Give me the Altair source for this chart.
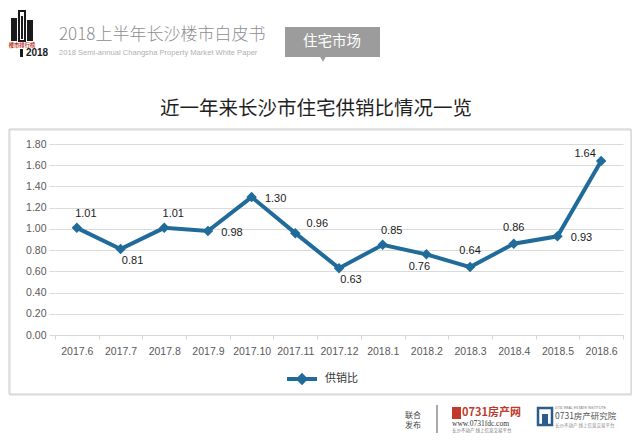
import altair as alt
import pandas as pd

# ---------------- data ----------------
months = ["2017.6", "2017.7", "2017.8", "2017.9", "2017.10", "2017.11", "2017.12",
          "2018.1", "2018.2", "2018.3", "2018.4", "2018.5", "2018.6"]
ratios = [1.01, 0.81, 1.01, 0.98, 1.30, 0.96, 0.63, 0.85, 0.76, 0.64, 0.86, 0.93, 1.64]
label_place = ["above_right", "below_right", "above_right", "right", "right", "upper_right",
               "below_right", "above_right", "below_left", "above", "above", "right", "upper_left"]
series_name = "供销比"
y_ticks = [0.0, 0.2, 0.4, 0.6, 0.8, 1.0, 1.2, 1.4, 1.6, 1.8]

title_text = "近一年来长沙市住宅供销比情况一览"
header_cn = "2018上半年长沙楼市白皮书"
header_en = "2018 Semi-annual Changsha Property Market White Paper"
section_text = "住宅市场"
logo_red = "楼市排行榜"
logo_year = "2018"
footer_a = "联合"
footer_b = "发布"
footer_site = "0731房产网"
footer_url = "www.0731fdc.com"
footer_small = "长沙不动产  线上信息交易平台"
footer_inst = "0731房产研究院"
footer_inst_en = "0731 REAL ESTATE INSTITUTE"

df = pd.DataFrame({"month": months, "ratio": ratios, "place": label_place,
                   "series": [series_name] * len(months)})
one = pd.DataFrame({"k": [0]})

# ---------------- styles ----------------
BLUE = "#206b9a"
W, H = 568, 191
NUM_FONT = "Liberation Sans"
CJK = "Noto Sans CJK SC"

offsets = {
    "above_right": (9, -14),
    "below_right": (12, 12),
    "right": (24, 2),
    "upper_right": (22, -9),
    "below_left": (-7, 13),
    "above": (0, -16),
    "upper_left": (-16, -7),
}

x_enc = alt.X("month:N", sort=months,
              scale=alt.Scale(type="band", paddingInner=0, paddingOuter=0),
              axis=alt.Axis(title=None, labelAngle=0, tickBand="extent", tickSize=4,
                            tickColor="#d6d6d6", domainColor="#d6d6d6", grid=False,
                            labelColor="#595959", labelFont=NUM_FONT, labelFontSize=10.5,
                            labelPadding=7))
y_enc = alt.Y("ratio:Q", scale=alt.Scale(domain=[0, 1.8], nice=False, zero=True),
              axis=alt.Axis(values=y_ticks, format=".2f", title=None, grid=True,
                            gridColor="#dadada", domain=False, tickSize=6,
                            tickColor="#dadada", labelColor="#595959", labelFont=NUM_FONT,
                            labelFontSize=10.5, labelPadding=3))

legend_symbol = "M-1,0H-0.25M0.25,0H1M0,-0.22L0.22,0L0,0.22L-0.22,0Z"
color_enc = alt.Color("series:N", scale=alt.Scale(range=[BLUE]),
                      legend=alt.Legend(orient="none", legendX=230, legendY=218, title=None,
                                        symbolType=legend_symbol, symbolSize=900,
                                        symbolStrokeWidth=4, symbolFillColor=BLUE,
                                        symbolStrokeColor=BLUE, labelFont=CJK,
                                        labelFontSize=11, labelColor="#333333",
                                        labelOffset=6, padding=0))

base = alt.Chart(df)
line = base.mark_line(strokeWidth=4).encode(x=x_enc, y=y_enc, color=color_enc)
pts = base.mark_point(shape="diamond", filled=True, size=110, opacity=1).encode(
    x=x_enc, y=y_enc, color=color_enc)

texts = []
for p, (dx, dy) in offsets.items():
    texts.append(
        base.transform_filter(alt.datum.place == p)
        .mark_text(dx=dx, dy=dy, font=NUM_FONT, fontSize=11, color="#1a1a1a",
                   baseline="middle", align="center")
        .encode(x=x_enc, y=y_enc, text=alt.Text("ratio:Q", format=".2f"))
    )

# ---------------- decorations (pixel positions relative to plot origin) ----------------
d = alt.Chart(one)


def rect(x1, x2, y1, y2, **kw):
    return d.mark_rect(**kw).encode(x=alt.value(x1), x2=alt.value(x2),
                                    y=alt.value(y1), y2=alt.value(y2))


def txt(s, x, y, **kw):
    return d.mark_text(**kw).encode(x=alt.value(x), y=alt.value(y), text=alt.value(s))


frame_shadow = rect(-45, 577, -14, 251, filled=False, stroke="#ececec", strokeWidth=2)
frame = rect(-46, 576, -15, 250, filled=False, stroke="#cccccc", strokeWidth=1)

title = txt(title_text, 261, -35, font=CJK, fontSize=19.5, color="#1f1f1f",
            align="center", baseline="middle")

head_cn = txt(header_cn, 4, -109, font=CJK, fontSize=17, color="#8e8e8e",
              align="left", baseline="middle", fontWeight=300)
head_en = txt(header_en, 4, -91, font=NUM_FONT, fontSize=7.6, color="#b0b0b0",
              align="left", baseline="middle")
sec_box = rect(230, 325, -117, -87, color="#9c9c9c")
sec_ptr = d.mark_point(shape="triangle-down", filled=True, size=40, color="#9c9c9c",
                       opacity=1).encode(x=alt.value(268), y=alt.value(-85))
sec_txt = txt(section_text, 277, -102, font=CJK, fontSize=14.5, color="#ffffff",
              align="center", baseline="middle")

logo1 = rect(-44, -38, -126, -103, color="#1a1a1a")
logo2 = rect(-36, -30, -133, -103, filled=False, stroke="#1a1a1a", strokeWidth=2)
logo2b = rect(-34, -32, -128, -105, color="#1a1a1a")
logo3 = rect(-28, -22, -124, -103, color="#1a1a1a")
logo_r = txt(logo_red, -33, -99, font=CJK, fontSize=5.3, color="#c0392b",
             fontWeight="bold", align="center", baseline="middle")
logo_bar = rect(-35, -32, -95, -87, color="#1a1a1a")
logo_y = txt(logo_year, -18, -91, font=NUM_FONT, fontSize=10, color="#1a1a1a",
             fontWeight="bold", align="center", baseline="middle")

f_a = txt(footer_a, 358, 272, font=CJK, fontSize=8, color="#444444",
          align="center", baseline="middle")
f_b = txt(footer_b, 358, 282, font=CJK, fontSize=8, color="#444444",
          align="center", baseline="middle")
f_rule = d.mark_rule(color="#555555", strokeWidth=1).encode(
    x=alt.value(382), y=alt.value(261), y2=alt.value(289))
f_icon = rect(397, 406, 263, 275, color="#c0392b")
f_site = txt(footer_site, 407, 269, font=CJK, fontSize=11, color="#c0392b",
             fontWeight="bold", align="left", baseline="middle")
f_url = txt(footer_url, 397, 280, font="Liberation Serif", fontSize=7.5, color="#333333",
            align="left", baseline="middle")
f_small = txt(footer_small, 397, 287, font=CJK, fontSize=4.5, color="#777777",
              align="left", baseline="middle")
f_icon2 = rect(483, 497, 264, 281, filled=False, stroke="#2a5d8a", strokeWidth=2.5)
f_icon2b = rect(487, 493, 270, 281, color="#2a5d8a")
f_inst_en = txt(footer_inst_en, 500, 264, font=NUM_FONT, fontSize=3.5, color="#777777",
                align="left", baseline="middle")
f_inst = txt(footer_inst, 500, 272, font=CJK, fontSize=8.5, color="#555555",
             align="left", baseline="middle")
f_inst2 = txt(footer_small, 500, 282, font=CJK, fontSize=4.5, color="#888888",
              align="left", baseline="middle")

chart = alt.layer(
    frame_shadow, frame, title, head_cn, head_en, sec_box, sec_ptr, sec_txt,
    logo1, logo2, logo2b, logo3, logo_r, logo_bar, logo_y,
    f_a, f_b, f_rule, f_icon, f_site, f_url, f_small, f_icon2, f_icon2b,
    f_inst_en, f_inst, f_inst2,
    line, pts, *texts
).properties(
    width=W, height=H,
    padding={"left": 47, "top": 136, "right": 9, "bottom": 98},
    autosize=alt.AutoSizeParams(type="none"),
    background="#ffffff",
).configure_view(stroke=None)

chart.save("out.html", embed_options={"renderer": "svg", "actions": False})
